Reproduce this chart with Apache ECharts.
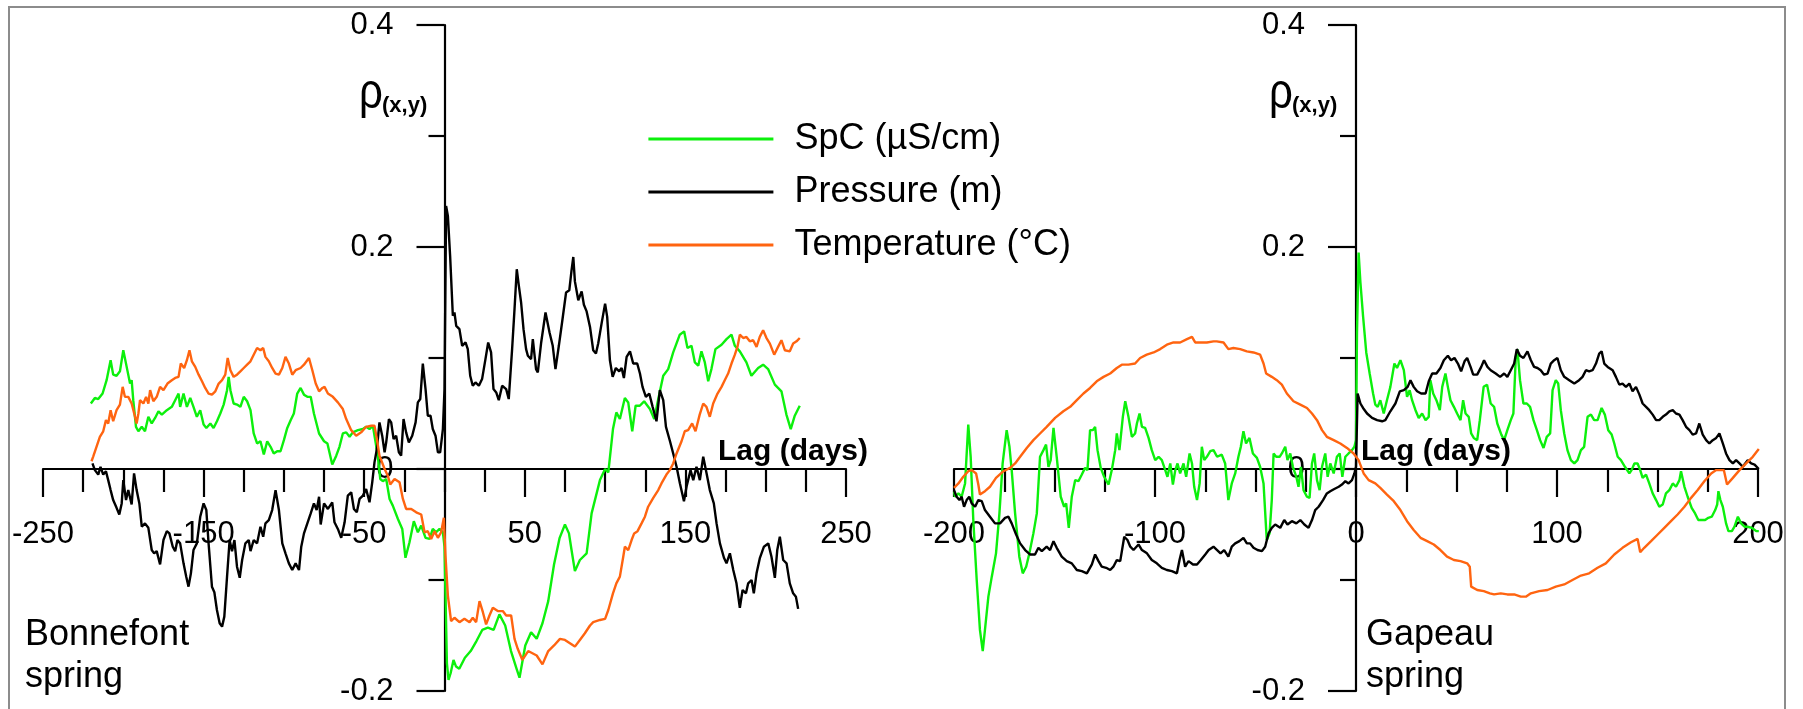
<!DOCTYPE html>
<html>
<head>
<meta charset="utf-8">
<style>
html,body{margin:0;padding:0;background:#fff;}
#chart{width:1803px;height:709px;}
</style>
<script src="https://cdn.jsdelivr.net/npm/echarts@6/dist/echarts.min.js"></script>
</head>
<body>
<div id="chart"></div>
<script>
// ---- data: [lag (days), rho] ----
const seriesNames = ['SpC (µS/cm)', 'Pressure (m)', 'Temperature (°C)'];
const leftLagAxis = { min: -250, max: 250, interval: 100 };
const rightLagAxis = { min: -200, max: 200, interval: 100 };
const rhoAxis = { min: -0.2, max: 0.4, interval: 0.2 };

const bonnefontSpC = [[-220.2,0.059],[-217.7,0.064],[-215.6,0.063],[-212.9,0.068],[-210.4,0.080],[-207.9,0.098],[-206.3,0.085],[-204.2,0.084],[-202.1,0.088],[-200,0.107],[-197.9,0.092],[-195.8,0.077],[-194.8,0.080],[-193.8,0.062],[-192.1,0.038],[-190.6,0.034],[-188.5,0.038],[-186.5,0.034],[-184.4,0.047],[-182.3,0.041],[-180.2,0.046],[-178.1,0.052],[-176,0.049],[-172.9,0.053],[-169.8,0.056],[-167.7,0.062],[-165.6,0.068],[-164.6,0.056],[-162.5,0.068],[-160.4,0.056],[-158.3,0.064],[-156.3,0.056],[-154.2,0.047],[-152.1,0.053],[-150,0.040],[-148.3,0.037],[-145.8,0.041],[-143.8,0.037],[-141.7,0.043],[-139.6,0.050],[-137.5,0.058],[-135.4,0.071],[-134.4,0.083],[-133.3,0.071],[-131.3,0.059],[-129.2,0.058],[-127.1,0.056],[-125,0.065],[-122.9,0.061],[-120.8,0.053],[-118.8,0.032],[-116.7,0.023],[-114.6,0.025],[-112.5,0.013],[-110.4,0.025],[-108.3,0.020],[-106.3,0.014],[-104.2,0.016],[-102.1,0.016],[-100,0.026],[-97.9,0.037],[-95.8,0.044],[-93.8,0.050],[-91.7,0.068],[-89.6,0.073],[-87.5,0.067],[-85.4,0.065],[-83.3,0.065],[-81.3,0.050],[-78.1,0.032],[-75,0.025],[-72.9,0.023],[-69.9,0.004],[-67.4,0.012],[-65.4,0.020],[-63.3,0.032],[-61.2,0.033],[-59.1,0.029],[-57.1,0.033],[-53.9,0.035],[-50.8,0.036],[-48.8,0.038],[-46.7,0.036],[-44.6,0.039],[-42.9,0.024],[-41.5,0.011],[-40,-0.009],[-38.4,-0.011],[-36.3,-0.009],[-34.2,-0.027],[-32.2,-0.033],[-29,-0.045],[-26.3,-0.054],[-24.3,-0.080],[-21.8,-0.066],[-19.1,-0.047],[-16.6,-0.057],[-14.5,-0.051],[-11.8,-0.062],[-9.3,-0.063],[-7.3,-0.054],[-5.2,-0.057],[-3.1,-0.054],[-1,-0.057],[0,-0.070],[1.5,-0.175],[2.5,-0.190],[3.8,-0.184],[5.6,-0.172],[7.2,-0.178],[9.2,-0.180],[12.7,-0.170],[16.3,-0.164],[19.9,-0.155],[23.5,-0.145],[27,-0.143],[30.6,-0.145],[34.2,-0.131],[37.8,-0.141],[41.4,-0.164],[44.9,-0.180],[46.7,-0.188],[50.3,-0.159],[53.9,-0.147],[57.4,-0.153],[61,-0.139],[64.6,-0.119],[68.2,-0.086],[71.7,-0.062],[75,-0.050],[77.5,-0.058],[79.1,-0.073],[81.2,-0.092],[84.3,-0.082],[88.5,-0.076],[91.6,-0.040],[96.8,-0.010],[100,0],[102,-0.003],[104.9,0.036],[107,0.051],[109.2,0.045],[112.3,0.064],[114.4,0.060],[116.9,0.034],[119,0.057],[121.6,0.057],[124.3,0.061],[127.9,0.054],[130.6,0.045],[133.1,0.063],[136.2,0.084],[139.3,0.090],[142.4,0.105],[146.5,0.121],[149.2,0.124],[151.3,0.109],[153.8,0.111],[155.9,0.096],[158,0.093],[160,0.106],[162.1,0.096],[164.2,0.079],[166.2,0.090],[168.7,0.108],[172.5,0.112],[175.6,0.117],[178.7,0.121],[180.8,0.111],[183.9,0.106],[188,0.096],[191.1,0.084],[195.3,0.091],[198.4,0.094],[201.5,0.090],[205.7,0.076],[209.8,0.070],[212.9,0.049],[215.6,0.036],[218.1,0.048],[221.2,0.057]];

const bonnefontPressure = [[-219.2,0.005],[-217.7,-0.001],[-215.6,-0.005],[-214.2,0.002],[-212.5,-0.005],[-210.8,-0.002],[-209.4,-0.010],[-207.9,-0.019],[-206.3,-0.028],[-204.2,-0.035],[-202.5,-0.041],[-201,-0.031],[-200,-0.010],[-198.3,-0.028],[-196.9,-0.019],[-194.8,-0.032],[-193.3,-0.004],[-191.7,-0.019],[-190,-0.031],[-188.5,-0.052],[-186.5,-0.049],[-184.4,-0.053],[-182.3,-0.073],[-180.8,-0.076],[-179.2,-0.074],[-177.1,-0.086],[-175,-0.064],[-172.9,-0.056],[-171.3,-0.058],[-169.2,-0.070],[-167.7,-0.074],[-166.3,-0.064],[-164.6,-0.067],[-162.5,-0.085],[-160.8,-0.097],[-159.4,-0.106],[-157.9,-0.094],[-156.3,-0.073],[-154.2,-0.067],[-152.1,-0.043],[-150,-0.031],[-148.3,-0.037],[-146.9,-0.067],[-144.8,-0.106],[-143.3,-0.111],[-141.7,-0.127],[-140,-0.139],[-138.5,-0.142],[-137.1,-0.133],[-135.4,-0.097],[-133.8,-0.064],[-132.3,-0.074],[-130.8,-0.064],[-129.2,-0.088],[-127.5,-0.098],[-126,-0.082],[-124,-0.067],[-121.9,-0.064],[-120.8,-0.074],[-118.8,-0.064],[-116.7,-0.067],[-114.6,-0.052],[-112.9,-0.061],[-111.5,-0.049],[-109.4,-0.046],[-107.3,-0.037],[-105.2,-0.019],[-103.1,-0.037],[-101,-0.067],[-99,-0.076],[-96.9,-0.085],[-94.8,-0.091],[-92.7,-0.085],[-90.6,-0.091],[-89.2,-0.070],[-87.5,-0.058],[-85.4,-0.049],[-83.3,-0.040],[-81.3,-0.031],[-79.6,-0.037],[-78.1,-0.025],[-77.1,-0.050],[-75,-0.031],[-72.6,-0.036],[-69.9,-0.030],[-68.5,-0.048],[-66.4,-0.054],[-64.3,-0.062],[-62.2,-0.048],[-60.2,-0.024],[-58.1,-0.021],[-56.4,-0.036],[-54.6,-0.039],[-52.9,-0.027],[-50.8,-0.024],[-48.8,-0.018],[-46.7,-0.030],[-45,-0.012],[-43.6,0.006],[-42.1,0.018],[-40.5,0.042],[-38.8,0.030],[-37.3,0.015],[-36.3,0.024],[-34.6,0.045],[-33.2,0.042],[-31.7,0.027],[-30.1,0.030],[-28.4,0.015],[-27,0.012],[-25.5,0.045],[-23.9,0.033],[-22.2,0.024],[-20.1,0.030],[-18,0.042],[-16.6,0.060],[-15.1,0.063],[-13.5,0.095],[-11.8,0.072],[-10.4,0.048],[-8.7,0.048],[-7.3,0.036],[-5.6,0.030],[-4.1,0.015],[-2.7,0.015],[-1,0.036],[0,0.072],[1,0.237],[2.1,0.228],[3.5,0.192],[5.2,0.138],[6.2,0.141],[7.3,0.129],[9.3,0.126],[11,0.111],[13.1,0.114],[14.5,0.108],[16,0.084],[17.6,0.075],[19.3,0.078],[21.4,0.075],[23.4,0.081],[25.5,0.099],[27.2,0.114],[29,0.105],[30.5,0.072],[32.2,0.069],[33.8,0.062],[35.9,0.075],[38.4,0.072],[40,0.063],[42.1,0.108],[43.6,0.144],[45,0.180],[46.3,0.165],[47.7,0.150],[49.2,0.126],[50.8,0.108],[51.9,0.102],[53.9,0.099],[55,0.117],[57,0.090],[58.1,0.087],[60.2,0.114],[62.9,0.141],[65.4,0.123],[67.4,0.111],[69.1,0.090],[71.2,0.111],[73.2,0.132],[75.7,0.159],[77.7,0.161],[79.1,0.179],[80.2,0.191],[81.2,0.169],[83.3,0.152],[85.4,0.160],[86.8,0.148],[88.5,0.142],[90.6,0.128],[92.6,0.107],[94.3,0.104],[95.7,0.113],[97.8,0.131],[100,0.149],[101.3,0.137],[103,0.098],[104.7,0.083],[106.7,0.091],[108.8,0.088],[110.3,0.091],[111.7,0.082],[113.4,0.101],[115.5,0.106],[117.5,0.095],[120,0.095],[121.7,0.086],[123.3,0.074],[125.4,0.065],[127.5,0.068],[129.6,0.056],[132,0.043],[134.1,0.071],[136.2,0.062],[137.9,0.038],[140.4,0.025],[142.4,0.014],[144.5,0.002],[146.6,-0.013],[149.1,-0.029],[150.7,-0.016],[153.2,-0.001],[154.9,-0.010],[156.9,0.002],[159,-0.010],[161.1,0.011],[163.2,-0.004],[165.2,-0.019],[167.7,-0.031],[169.4,-0.049],[171.5,-0.067],[174,-0.080],[175.6,-0.085],[177.7,-0.076],[179.8,-0.091],[181.8,-0.103],[183.9,-0.125],[185.6,-0.109],[187.7,-0.112],[189.1,-0.103],[191.2,-0.100],[192.6,-0.112],[194.3,-0.094],[196.4,-0.080],[198.9,-0.070],[201.6,-0.067],[203.6,-0.079],[205.7,-0.098],[207.2,-0.073],[208.8,-0.061],[210.9,-0.082],[213,-0.085],[215,-0.103],[217.1,-0.112],[218.8,-0.115],[220.2,-0.126]];

const bonnefontTemp = [[-219.8,0.007],[-218.8,0.011],[-216.7,0.020],[-214.6,0.029],[-212.5,0.034],[-210.8,0.044],[-209.4,0.041],[-207.9,0.053],[-206.3,0.043],[-204.2,0.053],[-202.1,0.058],[-200.4,0.074],[-199,0.065],[-196.9,0.065],[-194.8,0.059],[-192.7,0.047],[-191.7,0.041],[-190.6,0.050],[-189.6,0.062],[-187.5,0.059],[-185.8,0.065],[-184.4,0.059],[-183.3,0.071],[-181.3,0.061],[-179.2,0.065],[-177.1,0.074],[-175,0.071],[-172.5,0.077],[-169.8,0.080],[-167.7,0.082],[-165.6,0.083],[-164.2,0.095],[-162.1,0.091],[-160.4,0.098],[-158.8,0.107],[-157.3,0.097],[-155.2,0.092],[-153.1,0.085],[-151,0.079],[-149,0.073],[-146.9,0.068],[-144.8,0.067],[-142.7,0.070],[-140.6,0.077],[-138.5,0.080],[-136.5,0.085],[-135,0.100],[-133.3,0.089],[-131.3,0.083],[-129.2,0.085],[-127.1,0.088],[-125,0.091],[-122.9,0.094],[-120.8,0.097],[-118.8,0.103],[-116.7,0.109],[-114.6,0.107],[-112.9,0.109],[-111.5,0.101],[-109.4,0.097],[-107.3,0.091],[-105.2,0.086],[-103.1,0.085],[-101,0.091],[-99,0.101],[-96.9,0.095],[-94.8,0.085],[-92.7,0.089],[-89.6,0.091],[-87.5,0.094],[-84.4,0.100],[-82.3,0.089],[-80.2,0.077],[-78.1,0.070],[-76,0.073],[-74.7,0.074],[-72.6,0.068],[-69.5,0.065],[-66.4,0.060],[-63.3,0.054],[-61.2,0.045],[-58.1,0.035],[-55,0.030],[-51.9,0.033],[-48.8,0.038],[-45.6,0.039],[-43.6,0.039],[-42.1,0.027],[-40.5,0.012],[-37.3,0],[-35.3,-0.006],[-33.8,-0.014],[-31.1,-0.009],[-28,-0.012],[-25.9,-0.027],[-23.9,-0.036],[-20.7,-0.036],[-17.6,-0.039],[-14.5,-0.041],[-12.4,-0.057],[-10.4,-0.056],[-8.3,-0.063],[-6.2,-0.056],[-4.1,-0.062],[-2.1,-0.057],[-0.4,-0.044],[0.6,-0.078],[2.1,-0.114],[4.1,-0.137],[6.2,-0.134],[9.3,-0.138],[12.4,-0.135],[15.6,-0.138],[17.6,-0.134],[19.7,-0.138],[21.8,-0.119],[23.9,-0.129],[25.9,-0.140],[28,-0.132],[30.1,-0.125],[33.2,-0.128],[36.3,-0.128],[38.4,-0.132],[41.5,-0.132],[43.6,-0.153],[45.6,-0.162],[48.5,-0.172],[52.1,-0.164],[57.4,-0.168],[61,-0.176],[64.6,-0.164],[68.2,-0.159],[71.9,-0.153],[75,-0.154],[78.1,-0.157],[81.2,-0.160],[84.3,-0.154],[87.4,-0.148],[90.6,-0.141],[92.6,-0.138],[96.8,-0.136],[100,-0.135],[102,-0.127],[104.9,-0.112],[107,-0.103],[109.2,-0.097],[111.3,-0.079],[112.3,-0.070],[114.4,-0.073],[116.5,-0.064],[118.1,-0.058],[120.2,-0.056],[122.7,-0.049],[124.8,-0.043],[126.8,-0.034],[130,-0.026],[133.1,-0.019],[135.1,-0.013],[138.2,-0.005],[140.3,-0.001],[142.4,0.005],[144.5,0.014],[147.6,0.025],[149.6,0.034],[151.7,0.035],[154.2,0.041],[156.3,0.034],[158.9,0.049],[161.1,0.059],[163.1,0.056],[165.2,0.047],[167.3,0.059],[170,0.068],[172.5,0.074],[174.5,0.080],[176.6,0.086],[178.7,0.095],[180.8,0.103],[182.4,0.110],[183.9,0.121],[186,0.118],[188,0.119],[190.1,0.115],[192.2,0.116],[194.3,0.110],[196.3,0.119],[198.4,0.125],[200.5,0.118],[202.6,0.113],[205.3,0.103],[207.7,0.110],[209.8,0.116],[211.9,0.107],[215,0.106],[217.1,0.113],[219.2,0.115],[221.2,0.118]];

const gapeauSpC = [[-200,-0.020],[-199.5,-0.025],[-197.8,-0.022],[-196.2,-0.025],[-194.5,-0.013],[-192.9,0.040],[-191.7,0.011],[-190.4,-0.046],[-188.7,-0.100],[-187.1,-0.145],[-185.7,-0.164],[-184.6,-0.145],[-182.9,-0.115],[-181.2,-0.097],[-179.1,-0.076],[-177.4,-0.040],[-175.8,0.005],[-173.8,0.035],[-172.4,0.020],[-171.3,-0.001],[-169.6,-0.040],[-167.5,-0.079],[-165.8,-0.094],[-164.1,-0.088],[-162.5,-0.076],[-160.5,-0.058],[-158.8,-0.040],[-157.2,0.011],[-155.5,0.017],[-154.2,0.022],[-153,0.002],[-151.9,0.008],[-150.5,0.037],[-148.9,0.011],[-146.9,-0.025],[-145.2,-0.034],[-144.2,-0.031],[-142.9,-0.053],[-141.4,-0.025],[-139.7,-0.010],[-138.1,-0.011],[-136.4,-0.005],[-134.8,0.001],[-133.6,-0.001],[-132.3,0.035],[-130.9,0.035],[-129.8,0.038],[-128.6,0.017],[-127,0.001],[-125.3,-0.007],[-123.1,-0.014],[-121.5,-0.001],[-119.8,0.017],[-119,0.032],[-117.7,0.017],[-116,0.047],[-114.8,0.061],[-113.2,0.047],[-111.5,0.029],[-109.9,0.032],[-109,0.041],[-107.7,0.050],[-106.5,0.038],[-104.9,0.037],[-103.2,0.028],[-101.6,0.017],[-99.9,0.008],[-98.2,0.011],[-96.6,0.008],[-94.9,-0.001],[-93.8,-0.007],[-92.4,0.005],[-91.1,-0.014],[-89.9,-0.001],[-88.8,0.005],[-87.5,-0.004],[-85.8,0.005],[-84.5,-0.007],[-82.8,0.014],[-81.6,0.005],[-80.5,-0.016],[-79.1,-0.028],[-77.8,-0.013],[-76.7,0.020],[-75.5,0.008],[-74.2,0.011],[-72.5,0.016],[-70.9,0.017],[-69.1,0.011],[-66.8,0.013],[-65.1,0.005],[-63.5,-0.028],[-61.8,-0.013],[-60.1,-0.004],[-58.5,0.011],[-57.3,0.020],[-56,0.034],[-54.7,0.023],[-53,0.028],[-51.3,0.014],[-49.3,0.010],[-47.7,0.002],[-46,-0.013],[-44.4,-0.064],[-43,-0.058],[-41.9,-0.028],[-41,0.014],[-39.7,0.011],[-38,0.011],[-36.9,0.014],[-35.2,0.020],[-34.1,0.008],[-32.7,0.014],[-31.4,0.002],[-29.7,-0.007],[-28.6,-0.016],[-27.4,0.002],[-26.1,-0.019],[-24.4,-0.025],[-23.1,-0.026],[-21.9,0.005],[-20.8,0.014],[-19.4,-0.010],[-18.1,-0.019],[-16.9,0.002],[-15.3,0.014],[-14.1,-0.007],[-12.8,0.005],[-11.1,-0.004],[-9.5,0.011],[-8.1,0.014],[-6.8,-0.007],[-5.3,0.011],[-3.7,0.014],[-2,0.017],[-0.8,0.020],[0,0.026],[0.5,0.123],[1.3,0.195],[2.2,0.168],[3.5,0.138],[5.1,0.105],[6.8,0.086],[8.5,0.068],[9.6,0.058],[10.8,0.056],[12.1,0.062],[13.8,0.050],[15.4,0.062],[17.1,0.074],[19.1,0.095],[20.4,0.091],[22.1,0.098],[23.8,0.089],[25.4,0.065],[26.7,0.071],[27.9,0.062],[29.6,0.053],[31.2,0.046],[32.9,0.050],[34.6,0.044],[36.2,0.047],[37,0.080],[38.4,0.068],[40,0.062],[41.7,0.053],[42.9,0.074],[44.5,0.086],[45.7,0.074],[47,0.062],[48.7,0.056],[50.3,0.050],[52,0.044],[53.3,0.062],[54.5,0.050],[56.1,0.047],[57.3,0.032],[58.6,0.028],[60.3,0.026],[61.6,0.044],[63.5,0.074],[65.2,0.076],[67,0.059],[68.7,0.056],[70.3,0.041],[72.3,0.031],[73.7,0.026],[75.3,0.035],[77,0.044],[78.3,0.050],[79.5,0.101],[80.3,0.108],[81.6,0.080],[83.3,0.059],[85,0.059],[86.6,0.056],[88.3,0.044],[90,0.035],[91.6,0.026],[93.3,0.019],[94.9,0.029],[96.6,0.032],[97.8,0.071],[99.4,0.080],[100.6,0.077],[101.9,0.053],[103.6,0.032],[105.2,0.017],[106.9,0.008],[108.6,0.005],[110.2,0.008],[111.9,0.017],[113.5,0.020],[115.2,0.047],[116.9,0.049],[118.5,0.044],[120.2,0.044],[122.2,0.055],[123.8,0.049],[125.5,0.035],[127.2,0.031],[128.5,0.023],[130.2,0.011],[131.8,0.008],[133.8,0.002],[136,-0.004],[137.1,-0.001],[138.5,0.005],[140.1,0.005],[141.4,-0.001],[142.6,-0.008],[144.3,-0.005],[145.9,-0.013],[147.6,-0.022],[149.3,-0.028],[150.9,-0.034],[152.6,-0.032],[154.2,-0.022],[155.9,-0.019],[157.6,-0.013],[159.2,-0.016],[160.9,-0.010],[161.7,-0.002],[163.4,-0.016],[165,-0.025],[167,-0.035],[168.7,-0.040],[170.3,-0.046],[172,-0.046],[173.7,-0.046],[175.3,-0.044],[177,-0.043],[178.7,-0.037],[179.7,-0.032],[180.3,-0.020],[181.3,-0.028],[182.5,-0.034],[184.1,-0.049],[185.3,-0.056],[187,-0.056],[188.3,-0.052],[190,-0.043],[191.6,-0.049],[193.3,-0.052],[194.9,-0.052],[196.9,-0.053],[199.1,-0.056],[200.4,-0.056]];

const gapeauPressure = [[-200,-0.019],[-198.7,-0.025],[-197.3,-0.028],[-196.2,-0.025],[-195,-0.034],[-193.7,-0.028],[-192.4,-0.025],[-191.2,-0.031],[-189.5,-0.034],[-187.9,-0.028],[-186.2,-0.029],[-184.6,-0.037],[-182.1,-0.043],[-179.6,-0.049],[-177.1,-0.049],[-174.6,-0.044],[-172.9,-0.043],[-171.3,-0.049],[-169.1,-0.059],[-167.1,-0.067],[-164.6,-0.073],[-162.2,-0.077],[-159.7,-0.077],[-158,-0.071],[-156.3,-0.074],[-153.9,-0.070],[-152.2,-0.073],[-150.5,-0.065],[-148.9,-0.071],[-146.4,-0.079],[-143.9,-0.083],[-141.4,-0.085],[-138.9,-0.091],[-136.4,-0.092],[-133.9,-0.094],[-131.4,-0.086],[-129.8,-0.077],[-128.1,-0.083],[-126.5,-0.088],[-124.3,-0.089],[-122.3,-0.091],[-120.7,-0.088],[-119,-0.082],[-117.3,-0.083],[-115.3,-0.061],[-113.7,-0.064],[-112.3,-0.070],[-110.7,-0.073],[-108.2,-0.068],[-106.5,-0.073],[-104,-0.076],[-101.6,-0.082],[-99.1,-0.085],[-96.6,-0.089],[-94.1,-0.091],[-91.6,-0.092],[-89.1,-0.094],[-87.8,-0.082],[-86.6,-0.073],[-85,-0.088],[-83.3,-0.083],[-81.1,-0.086],[-79.1,-0.086],[-77.2,-0.082],[-75,-0.077],[-73.3,-0.073],[-70.9,-0.070],[-69.1,-0.073],[-67.4,-0.076],[-65.6,-0.073],[-63.5,-0.079],[-61.8,-0.070],[-60.1,-0.067],[-58,-0.065],[-56,-0.062],[-54.3,-0.067],[-52.7,-0.067],[-51,-0.071],[-49,-0.073],[-46.8,-0.074],[-45.2,-0.070],[-43.5,-0.058],[-41.9,-0.053],[-40.2,-0.050],[-37.7,-0.053],[-35.7,-0.046],[-34.1,-0.050],[-31.9,-0.047],[-29.7,-0.049],[-27.7,-0.046],[-25.7,-0.050],[-23.6,-0.053],[-21.9,-0.046],[-20.3,-0.037],[-18.6,-0.034],[-16.4,-0.028],[-14.5,-0.022],[-12.8,-0.020],[-10.8,-0.018],[-8.6,-0.016],[-7,-0.014],[-5.3,-0.011],[-3.7,-0.013],[-2,-0.010],[-0.8,-0.004],[0,0.002],[0.8,0.068],[2.2,0.059],[3.5,0.055],[5.5,0.050],[8,0.046],[10.5,0.044],[13,0.043],[14.6,0.044],[17.1,0.052],[19.6,0.059],[21.8,0.070],[23.8,0.071],[25.7,0.074],[27.1,0.080],[28.7,0.074],[30.4,0.070],[32.4,0.068],[34.6,0.068],[36.2,0.079],[37.9,0.086],[40,0.086],[42,0.091],[43.7,0.098],[45.7,0.102],[47.3,0.098],[49,0.100],[50.7,0.095],[52.3,0.088],[54,0.097],[55.3,0.100],[57,0.092],[58.3,0.085],[60.3,0.085],[62.3,0.092],[63.7,0.098],[65.4,0.092],[67,0.089],[69.5,0.086],[71.7,0.083],[73.7,0.086],[75.3,0.083],[77,0.089],[78.7,0.095],[80,0.108],[81.6,0.102],[83.3,0.100],[85.3,0.106],[87,0.098],[88.6,0.092],[90.3,0.091],[91.9,0.089],[93.6,0.085],[95.3,0.086],[96.9,0.095],[98.6,0.098],[100.2,0.100],[101.9,0.089],[103.6,0.083],[106.1,0.080],[108.6,0.077],[111,0.080],[112.7,0.083],[114.4,0.089],[116,0.088],[117.7,0.089],[119.4,0.095],[121,0.104],[122.2,0.106],[123.5,0.095],[125.2,0.092],[127.7,0.089],[129.3,0.083],[131,0.076],[132.6,0.077],[134.3,0.074],[136,0.077],[137.6,0.070],[139.3,0.074],[141,0.067],[142.6,0.059],[144.3,0.056],[145.9,0.053],[147.6,0.049],[149.3,0.044],[150.9,0.044],[152.6,0.047],[154.2,0.049],[155.9,0.052],[157.6,0.053],[159.2,0.050],[160.9,0.049],[162.5,0.044],[164.2,0.038],[165.9,0.035],[167.5,0.031],[169.2,0.032],[170.8,0.041],[172.5,0.031],[174.2,0.026],[175.8,0.023],[177.5,0.026],[179.2,0.028],[180.8,0.032],[182.5,0.023],[184.1,0.014],[185.8,0.008],[187.5,0.005],[189.1,0.008],[190.8,0.005],[192.4,0.002],[194.9,0.008],[196.6,0.005],[198.3,0.004],[200.4,0]];

const gapeauTemp = [[-200,-0.017],[-197.8,-0.013],[-195.4,-0.007],[-192.9,-0.002],[-191.2,-0.001],[-189,-0.004],[-187.9,-0.014],[-187.1,-0.023],[-184.6,-0.020],[-182.1,-0.016],[-179.1,-0.008],[-175.4,-0.002],[-172.1,0.001],[-169.6,0.005],[-167.1,0.011],[-163.8,0.019],[-160.5,0.026],[-157.2,0.032],[-153.9,0.038],[-149.7,0.046],[-145.6,0.052],[-142.2,0.056],[-138.9,0.062],[-135.6,0.068],[-132.3,0.073],[-129,0.079],[-125.6,0.083],[-122.3,0.086],[-119,0.091],[-116.5,0.094],[-113.2,0.094],[-109.9,0.095],[-107.4,0.100],[-104.1,0.103],[-100.7,0.105],[-97.4,0.108],[-94.1,0.112],[-90.8,0.114],[-87.5,0.114],[-84.1,0.117],[-81.6,0.119],[-80,0.114],[-77.5,0.114],[-74.2,0.114],[-70.9,0.115],[-69.3,0.115],[-65.9,0.114],[-63.5,0.108],[-61,0.109],[-57.6,0.108],[-54.3,0.106],[-51,0.105],[-47.7,0.103],[-46,0.095],[-44.7,0.086],[-41.9,0.083],[-39.4,0.080],[-36.9,0.076],[-34.4,0.068],[-31.1,0.061],[-27.7,0.058],[-24.4,0.055],[-21.9,0.050],[-19.4,0.044],[-16.9,0.035],[-14.5,0.029],[-11.1,0.026],[-7.8,0.023],[-4.5,0.019],[-1.2,0.014],[1.3,0.008],[3.8,-0.004],[6.3,-0.010],[9.6,-0.013],[12.1,-0.017],[15.4,-0.023],[18.8,-0.029],[22.1,-0.037],[25.4,-0.047],[28.7,-0.055],[32.1,-0.062],[35.4,-0.065],[38.7,-0.068],[42,-0.073],[45.3,-0.079],[48.7,-0.082],[52,-0.083],[55.3,-0.085],[56.6,-0.088],[57.3,-0.106],[60.3,-0.109],[63.6,-0.110],[66.6,-0.112],[68.7,-0.113],[72,-0.112],[75.3,-0.113],[78.7,-0.113],[82,-0.115],[84.5,-0.115],[87,-0.112],[91.1,-0.110],[95.3,-0.109],[99.4,-0.106],[103.6,-0.104],[107.7,-0.100],[111.9,-0.096],[116,-0.094],[120.2,-0.089],[124.3,-0.085],[128.5,-0.077],[132.6,-0.071],[136.8,-0.066],[140.1,-0.063],[141.4,-0.075],[143.4,-0.071],[146.8,-0.065],[150.1,-0.059],[153.4,-0.053],[156.7,-0.047],[160,-0.041],[163.4,-0.034],[166.7,-0.026],[170,-0.019],[173.3,-0.011],[176.7,-0.004],[179.2,-0.001],[181.3,-0.001],[183,-0.001],[184.6,-0.014],[187.5,-0.008],[190.8,-0.001],[194.1,0.005],[197.4,0.011],[200.4,0.018]];

// ---- styling ----
const FONT = '"Liberation Sans", Arial, Helvetica, sans-serif';
const colors = { spc: '#0cf00c', pressure: '#000000', temp: '#ff6410' };
const GRID_TOP = 25, GRID_H = 666;
const grids = [ { left: 43, width: 803 }, { left: 954, width: 804 } ];
const ranges = [leftLagAxis, rightLagAxis];

// pixel offsets so axes cross at the zero point (labels follow the axis lines)
function xOffset() {
  const zeroFrac = rhoAxis.max / (rhoAxis.max - rhoAxis.min);
  return -(GRID_H - GRID_H * zeroFrac);
}
function yOffset(i) {
  const r = ranges[i];
  return -(grids[i].width * (0 - r.min) / (r.max - r.min));
}

function xAxisCfg(i) {
  const r = ranges[i];
  return {
    type: 'value', gridIndex: i, min: r.min, max: r.max, interval: r.interval,
    position: 'bottom', offset: xOffset(),
    axisLine: { show: true, onZero: false, lineStyle: { color: '#000', width: 2.2 } },
    axisTick: { show: true, length: 28, lineStyle: { color: '#000', width: 2.2 } },
    minorTick: { show: true, splitNumber: 4, length: 23, lineStyle: { color: '#000', width: 2.2 } },
    splitLine: { show: false }, minorSplitLine: { show: false },
    axisLabel: { show: true, color: '#000', fontSize: 31, fontFamily: FONT, margin: 50, showMinLabel: true, showMaxLabel: true, hideOverlap: false }
  };
}
function yAxisCfg(i) {
  return {
    type: 'value', gridIndex: i, min: rhoAxis.min, max: rhoAxis.max, interval: rhoAxis.interval,
    position: 'left', offset: yOffset(i),
    axisLine: { show: true, onZero: false, lineStyle: { color: '#000', width: 2.2 } },
    axisTick: { show: true, length: 28, lineStyle: { color: '#000', width: 2.2 } },
    minorTick: { show: true, splitNumber: 2, length: 16, lineStyle: { color: '#000', width: 2.2 } },
    splitLine: { show: false }, minorSplitLine: { show: false },
    axisLabel: { show: true, color: '#000', fontSize: 31, fontFamily: FONT, margin: 51, showMinLabel: true, showMaxLabel: true, hideOverlap: false }
  };
}
function lineSeries(name, data, color, gi) {
  return {
    name: name, type: 'line', data: data, xAxisIndex: gi, yAxisIndex: gi,
    symbol: 'none', showSymbol: false, smooth: false, animation: false,
    lineStyle: { color: color, width: 2.4 }, itemStyle: { color: color },
    emphasis: { disabled: true }
  };
}
function txt(x, y, text, size, weight, sx) {
  return { type: 'text', x: x, y: y, z: 100, silent: true, scaleX: sx || 1,
    style: { text: text, fill: '#000', fontSize: size, fontFamily: FONT, fontWeight: weight || 'normal',
      verticalAlign: 'middle', align: 'left' } };
}

const chart = echarts.init(document.getElementById('chart'), null, { renderer: 'canvas' });
chart.setOption({
  animation: false,
  backgroundColor: '#fff',
  grid: grids.map(g => ({ left: g.left, width: g.width, top: GRID_TOP, height: GRID_H, containLabel: false, outerBoundsMode: 'none' })),
  xAxis: [xAxisCfg(0), xAxisCfg(1)],
  yAxis: [yAxisCfg(0), yAxisCfg(1)],
  legend: {
    data: seriesNames, orient: 'vertical', left: 647, top: 121, padding: 0,
    itemWidth: 125, itemHeight: 36, itemGap: 17, selectedMode: false,
    itemStyle: { opacity: 0, borderWidth: 0 },
    lineStyle: { width: 2.8 },
    textStyle: { color: '#000', fontSize: 36, fontFamily: FONT, padding: [0, 0, 0, 16] }
  },
  series: [
    lineSeries(seriesNames[0], bonnefontSpC, colors.spc, 0),
    lineSeries(seriesNames[1], bonnefontPressure, colors.pressure, 0),
    lineSeries(seriesNames[2], bonnefontTemp, colors.temp, 0),
    lineSeries(seriesNames[0], gapeauSpC, colors.spc, 1),
    lineSeries(seriesNames[1], gapeauPressure, colors.pressure, 1),
    lineSeries(seriesNames[2], gapeauTemp, colors.temp, 1)
  ],
  graphic: [
    { type: 'rect', silent: true, z: 100, shape: { x: 9, y: 7, width: 1776, height: 730 },
      style: { fill: 'none', stroke: '#8c8c8c', lineWidth: 2 } },
    txt(359, 94, 'ρ', 50, 'normal', 0.84),
    txt(382, 106, '(x,y)', 22, 'bold'),
    txt(1269, 94, 'ρ', 50, 'normal', 0.84),
    txt(1292, 106, '(x,y)', 22, 'bold'),
    txt(718, 452, 'Lag (days)', 30, 'bold'),
    txt(1361, 452, 'Lag (days)', 30, 'bold'),
    { type: 'text', x: 25, y: 614, z: 100, silent: true,
      style: { text: 'Bonnefont\nspring', fill: '#000', fontSize: 36, fontFamily: FONT, lineHeight: 42, verticalAlign: 'top' } },
    { type: 'text', x: 1366, y: 614, z: 100, silent: true,
      style: { text: 'Gapeau\nspring', fill: '#000', fontSize: 36, fontFamily: FONT, lineHeight: 42, verticalAlign: 'top' } }
  ]
});
</script>
</body>
</html>
